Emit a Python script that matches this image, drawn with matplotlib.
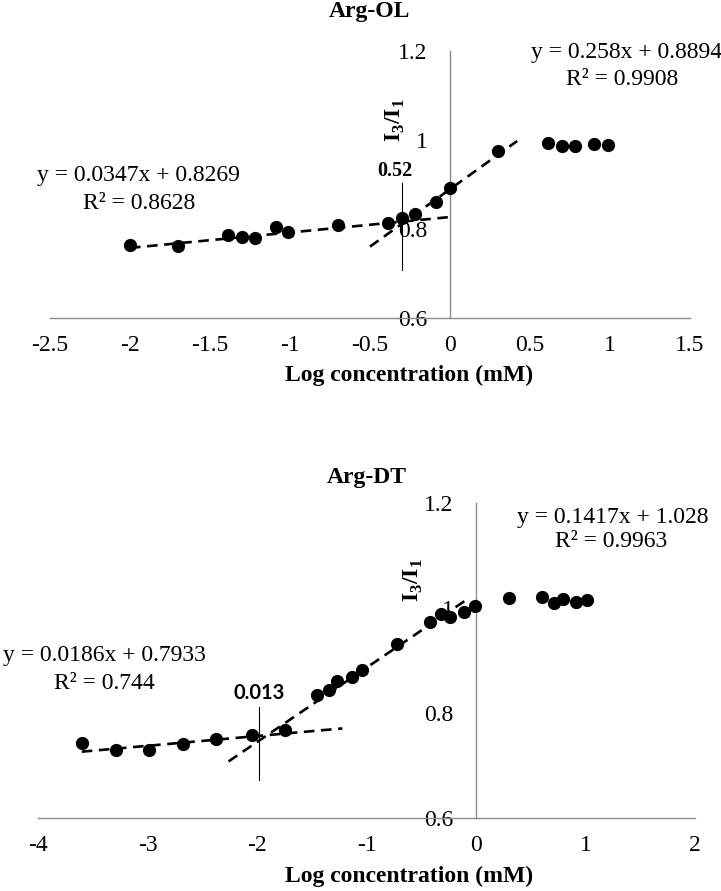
import matplotlib
matplotlib.use("Agg")
import matplotlib.pyplot as plt
import numpy as np

plt.rcParams['font.family'] = ['Liberation Serif', 'DejaVu Serif']
plt.rcParams['mathtext.fontset'] = 'custom'
plt.rcParams['mathtext.rm'] = 'Liberation Serif'
plt.rcParams['mathtext.bf'] = 'Liberation Serif:bold'

# ---------------- Data: Arg-OL ----------------
ol_x = [-2.00, -1.70, -1.39, -1.30, -1.22, -1.09, -1.01, -0.70, -0.39, -0.30,
        -0.22, -0.09, 0.00, 0.30, 0.61, 0.70, 0.78, 0.90, 0.99]
ol_y = [0.764, 0.762, 0.787, 0.782, 0.780, 0.804, 0.793, 0.809, 0.813, 0.825,
        0.834, 0.861, 0.892, 0.975, 0.993, 0.987, 0.987, 0.991, 0.989]
ol_fit_low = (0.0347, 0.8269)
ol_fit_high = (0.258, 0.8894)
ol_low_range = (-2.0, 0.0)
ol_high_range = (-0.5, 0.42)
ol_cmc_x = -0.30
ol_cmc_span = (0.708, 0.903)
ol_cmc_label = "0.52"
ol_xticks = [-2.5, -2, -1.5, -1, -0.5, 0, 0.5, 1, 1.5]
ol_yticks = [0.6, 0.8, 1.0, 1.2]

# ---------------- Data: Arg-DT ----------------
dt_x = [-3.60, -3.29, -2.99, -2.68, -2.37, -2.05, -1.74, -1.45, -1.34, -1.27,
        -1.13, -1.04, -0.72, -0.42, -0.32, -0.24, -0.11, -0.01, 0.30, 0.60,
        0.71, 0.79, 0.91, 1.01]
dt_y = [0.743, 0.730, 0.730, 0.741, 0.750, 0.758, 0.768, 0.834, 0.844, 0.861,
        0.869, 0.882, 0.931, 0.973, 0.988, 0.983, 0.992, 1.004, 1.019, 1.021,
        1.009, 1.017, 1.011, 1.015]
dt_fit_low = (0.0186, 0.7933)
dt_fit_high = (0.1417, 1.028)
dt_low_range = (-3.6, -1.22)
dt_high_range = (-2.26, -0.10)
dt_cmc_x = -1.98
dt_cmc_span = (0.672, 0.811)
dt_cmc_label = "0.013"
dt_xticks = [-4, -3, -2, -1, 0, 1, 2]
dt_yticks = [0.6, 0.8, 1.0, 1.2]

W, H = 721, 891
fig = plt.figure(figsize=(W / 100, H / 100), dpi=100)


def px_axes(l, r, t, b):
    return fig.add_axes([l / W, 1 - b / H, (r - l) / W, (b - t) / H])


def fmt(v):
    s = f"{v:g}"
    return s


def panel(ax, x, y, low, high, lr, hr, cx, cspan, clabel, clabel_font,
          xticks, yticks, xlim, eqs, title, title_px, ylabel_px, xlabel_px,
          clabel_pos):
    ax.set_xlim(*xlim)
    ax.set_ylim(0.6, 1.2)
    for s in ['top', 'right']:
        ax.spines[s].set_visible(False)
    ax.spines['left'].set_position(('data', 0))
    for s in ['left', 'bottom']:
        ax.spines[s].set_color('#8c8c8c')
        ax.spines[s].set_linewidth(1.0)
    ax.set_xticks(xticks)
    ax.set_xticklabels([fmt(v) for v in xticks])
    ax.set_yticks(yticks)
    ax.set_yticklabels([fmt(v) for v in yticks])
    ax.tick_params(axis='both', length=0, labelsize=17)
    ax.tick_params(axis='x', pad=12)
    ax.tick_params(axis='y', pad=16)
    ax.patch.set_alpha(0)

    ax.plot(x, y, 'o', color='black', ms=8.5, zorder=3)
    xs = np.array(lr)
    ax.plot(xs, low[0] * xs + low[1], '--', color='black', lw=1.9,
            dashes=(4, 2.5), zorder=2)
    xs = np.array(hr)
    ax.plot(xs, high[0] * xs + high[1], '--', color='black', lw=1.9,
            dashes=(4, 2.5), zorder=2)
    ax.plot([cx, cx], cspan, color='black', lw=0.8, zorder=2)
    ax.text(clabel_pos[0], clabel_pos[1], clabel, ha='center', va='center',
            fontsize=14.5, fontweight='bold', family=clabel_font)

    for (tx, ty, txt) in eqs:
        ax.text(tx, ty, txt, ha='center', va='center', fontsize=17,
                clip_on=False)

    fig.text(title_px[0] / W, 1 - title_px[1] / H, title, ha='center',
             va='center', fontsize=17, fontweight='bold')
    fig.text(ylabel_px[0] / W, 1 - ylabel_px[1] / H,
             r'$\mathbf{I}_\mathbf{3}\mathbf{/I}_\mathbf{1}$', ha='center',
             va='center', fontsize=17, rotation=90)
    fig.text(xlabel_px[0] / W, 1 - xlabel_px[1] / H,
             'Log concentration (mM)', ha='center', va='center',
             fontsize=17, fontweight='bold')


ax1 = px_axes(50, 690, 51, 318)
panel(ax1, ol_x, ol_y, ol_fit_low, ol_fit_high, ol_low_range, ol_high_range,
      ol_cmc_x, ol_cmc_span, ol_cmc_label, ['Liberation Serif'],
      ol_xticks, ol_yticks, (-2.5, 1.5),
      [(-1.95, 0.921, 'y = 0.0347x + 0.8269'),
       (-1.94, 0.858, 'R² = 0.8628'),
       (1.106, 1.196, 'y = 0.258x + 0.8894'),
       (1.075, 1.135, 'R² = 0.9908')],
      'Arg-OL', (369, 12), (395, 120), (409, 375), (-0.344, 0.930))

ax2 = px_axes(38, 695, 503, 818)
panel(ax2, dt_x, dt_y, dt_fit_low, dt_fit_high, dt_low_range, dt_high_range,
      dt_cmc_x, dt_cmc_span, dt_cmc_label, ['Lato', 'DejaVu Sans'],
      dt_xticks, dt_yticks, (-4, 2),
      [(-3.39, 0.910, 'y = 0.0186x + 0.7933'),
       (-3.39, 0.857, 'R² = 0.744'),
       (1.25, 1.173, 'y = 0.1417x + 1.028'),
       (1.23, 1.126, 'R² = 0.9963')],
      'Arg-DT', (367, 478), (413, 580), (409, 876), (-1.98, 0.838))

fig.savefig('out.png', dpi=100)
